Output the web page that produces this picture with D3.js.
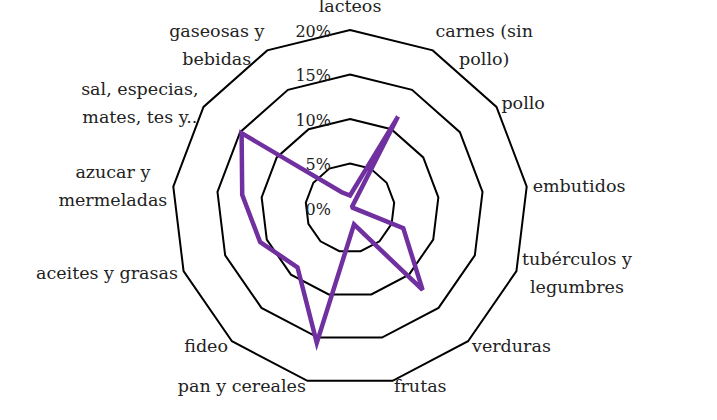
<!DOCTYPE html>
<html><head><meta charset="utf-8">
<script src="https://cdn.jsdelivr.net/npm/d3@7"></script>
<style>
html,body{margin:0;padding:0;background:#fff;}
svg{display:block;}
</style></head>
<body><svg id="chart" width="717" height="420" font-family="DejaVu Serif"></svg>
<script>
const categories = ["lacteos","carnes (sin\npollo)","pollo","embutidos","tubérculos y\nlegumbres","verduras","frutas","pan y cereales","fideo","aceites y grasas","azucar y\nmermeladas","sal, especias,\nmates, tes y..","gaseosas y\nbebidas"];
const values = [1.4, 11.6, 0.3, 0.3, 6.4, 12.3, 1.9, 15.6, 8.9, 10.8, 12.2, 14.8, 2.0];
const tickValues = [0, 5, 10, 15, 20];
const tickLabels = ["0%","5%","10%","15%","20%"];

const svg = d3.select("#chart");
const cx = 350, cy = 208, R = 178;
const n = categories.length;
const r = d3.scaleLinear().domain([0, 20]).range([0, R]);
const ang = d3.scaleLinear().domain([0, n]).range([0, 2*Math.PI]);
const pt = (i, v) => [cx + r(v)*Math.sin(ang(i)), cy - r(v)*Math.cos(ang(i))];

const g = svg.append("g");
const line = d3.line();

tickValues.filter(t => t > 0).forEach(t => {
  const pts = d3.range(n).map(i => pt(i, t));
  g.append("path").attr("d", line(pts) + "Z")
    .attr("fill", "none").attr("stroke", "#000").attr("stroke-width", 2);
});

tickValues.forEach((t, k) => {
  g.append("text").attr("x", cx - 19).attr("y", cy - r(t) + 1)
    .attr("dy", "0.35em").attr("text-anchor", "end")
    .attr("fill", "#222").attr("font-size", 16).text(tickLabels[k]);
});

const dpts = values.map((v, i) => pt(i, v));
g.append("path").attr("d", line(dpts) + "Z")
  .attr("fill", "none").attr("stroke", "#7030A0").attr("stroke-width", 4.5)
  .attr("stroke-linejoin", "miter");

const lh = 28;
categories.forEach((c, i) => {
  const a = ang(i);
  const s = Math.sin(a), co = Math.cos(a);
  const [vx, vy] = pt(i, 20);
  const lines = c.split("\n");
  const grp = g.append("g");
  const texts = lines.map(l => grp.append("text").attr("fill", "#222").attr("font-size", 17.5).text(l));
  const widths = texts.map(t => t.node().getComputedTextLength());
  const bw = d3.max(widths);
  let ax = vx + 6*s, ay = vy - 6*co;
  let bx;
  if (Math.abs(s) < 0.05) { bx = vx; }
  else if (s > 0) { bx = ax + bw/2; }
  else { bx = ax - bw/2; }
  let midY;
  if (Math.abs(s) < 0.05 && co > 0) {
    midY = vy - 24 - (lines.length-1)*lh/2;
  } else {
    midY = ay;
  }
  texts.forEach((t, k) => {
    t.attr("x", bx).attr("text-anchor", "middle")
     .attr("y", midY + (k - (lines.length-1)/2)*lh).attr("dy", "0.33em");
  });
});
</script></body></html>
